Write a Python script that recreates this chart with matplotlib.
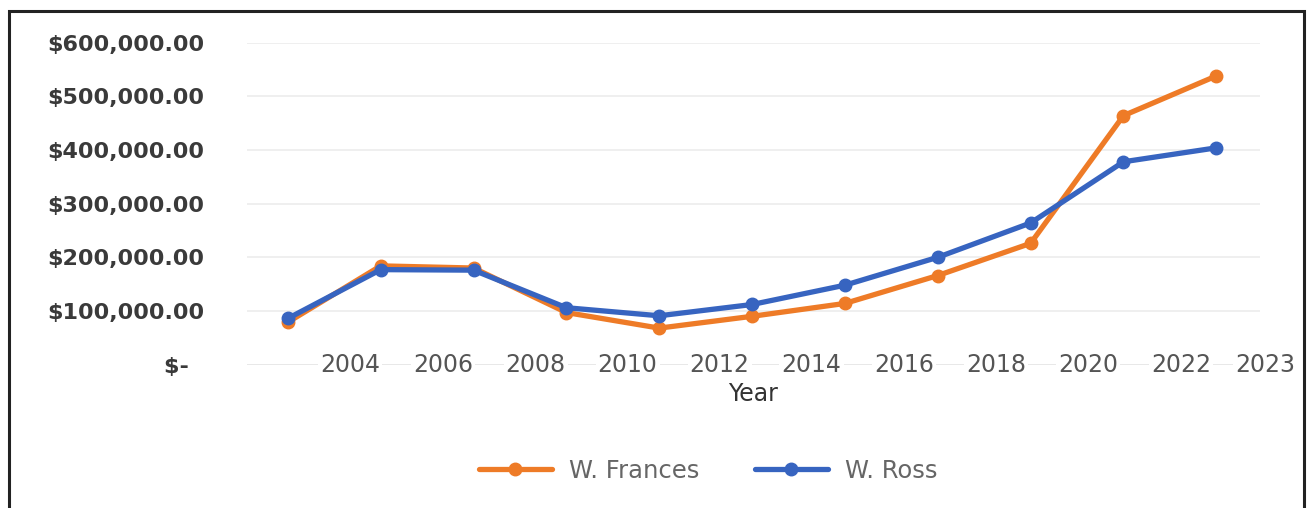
import matplotlib.pyplot as plt
from matplotlib.patches import Rectangle

# values per survey point (11 points)
frances = [79000, 184000, 180000, 97000, 68000, 90000, 114000, 166000, 226000, 464000, 538000]
ross = [86000, 177000, 176000, 106000, 91000, 112000, 148000, 200000, 264000, 378000, 404000]

year_labels = ["2004", "2006", "2008", "2010", "2012", "2014", "2016",
               "2018", "2020", "2022", "2023"]
year_pos = [0.67, 1.67, 2.67, 3.66, 4.65, 5.64, 6.64, 7.63, 8.62, 9.62, 10.53]

y_ticks = [0, 100000, 200000, 300000, 400000, 500000, 600000]

ORANGE = "#EE7B27"
BLUE = "#3764C0"

fig = plt.figure(figsize=(13.07, 5.08), dpi=100)
ax = fig.add_axes([0.189, 0.2823, 0.775, 0.6337])

x = list(range(len(frances)))
ax.plot(x, frances, color=ORANGE, lw=3.8, marker="o", ms=9, label="W. Frances",
        solid_capstyle="round", zorder=3)
ax.plot(x, ross, color=BLUE, lw=3.8, marker="o", ms=9, label="W. Ross",
        solid_capstyle="round", zorder=4)

ax.set_xlim(-0.44, 10.47)
ax.set_ylim(0, 600000)

for v in y_ticks[1:]:
    ax.axhline(v, color="#ECECEC", lw=1.2, zorder=1)
ax.axhline(0, color="#E4E4E4", lw=1.2, zorder=1)

for s in ax.spines.values():
    s.set_visible(False)

ax.set_xticks([])
ax.set_yticks(y_ticks)
ax.set_yticklabels(["$-  "] + [f"${v:,.2f}" for v in y_ticks[1:]],
                   fontsize=16, fontweight="bold", color="#3A3A3A")
ax.tick_params(axis="y", length=0, pad=31)

for xp, lbl in zip(year_pos, year_labels):
    ax.text(xp, 0, lbl, ha="center", va="center", fontsize=17, color="#555555",
            clip_on=False, zorder=5,
            bbox=dict(facecolor="white", edgecolor="none", pad=1.5))

ax.text(0.5, -0.09, "Year", transform=ax.transAxes, ha="center", va="center",
        fontsize=17, color="#333333")

leg = ax.legend(loc="center", bbox_to_anchor=(0.455, -0.33), ncol=2, frameon=False,
                fontsize=17.5, handlelength=3.0, columnspacing=2.3, handletextpad=0.7)
for t in leg.get_texts():
    t.set_color("#666666")

# outer frame
fig.patches.append(Rectangle((9 / 1307, -0.05), 1295 / 1307, 1.05 - 11 / 508,
                             transform=fig.transFigure, fill=False,
                             edgecolor="#222222", lw=2.2))

fig.savefig("out.png", dpi=100, facecolor="white")
